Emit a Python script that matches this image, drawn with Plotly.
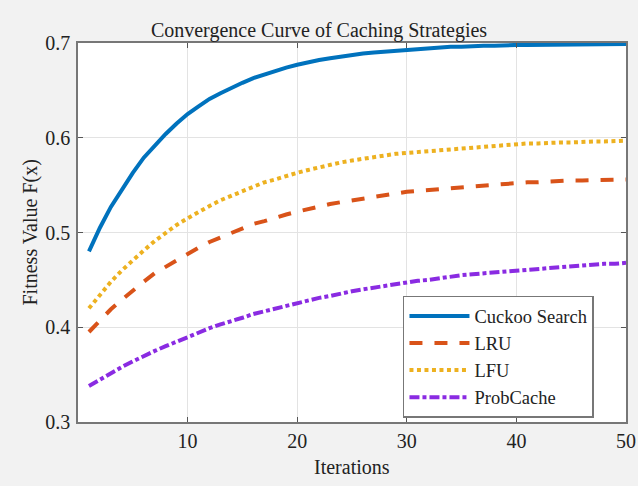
import plotly.graph_objects as go

iterations = list(range(1, 51))

cuckoo_search = [0.480, 0.505, 0.527, 0.546, 0.563, 0.579, 0.592, 0.604, 0.615, 0.625,
                 0.633, 0.641, 0.647, 0.653, 0.658, 0.663, 0.667, 0.671, 0.674, 0.677,
                 0.680, 0.682, 0.684, 0.686, 0.687, 0.689, 0.690, 0.691, 0.692, 0.693,
                 0.694, 0.6945, 0.695, 0.696, 0.696, 0.697, 0.697, 0.697, 0.698, 0.698,
                 0.698, 0.698, 0.6985, 0.699, 0.699, 0.699, 0.699, 0.699, 0.699, 0.699]

lru = [0.395, 0.407, 0.419, 0.429, 0.439, 0.448, 0.457, 0.464, 0.471, 0.478,
       0.484, 0.490, 0.495, 0.500, 0.504, 0.509, 0.512, 0.516, 0.519, 0.522,
       0.525, 0.528, 0.530, 0.532, 0.534, 0.536, 0.538, 0.540, 0.541, 0.543,
       0.544, 0.545, 0.546, 0.547, 0.548, 0.549, 0.550, 0.551, 0.551, 0.552,
       0.553, 0.553, 0.554, 0.554, 0.555, 0.555, 0.555, 0.556, 0.556, 0.556]

lfu = [0.420, 0.434, 0.448, 0.460, 0.471, 0.481, 0.491, 0.500, 0.508, 0.515,
       0.522, 0.528, 0.534, 0.539, 0.544, 0.549, 0.553, 0.556, 0.560, 0.563,
       0.566, 0.569, 0.571, 0.574, 0.576, 0.578, 0.579, 0.581, 0.583, 0.584,
       0.585, 0.586, 0.587, 0.588, 0.589, 0.590, 0.591, 0.592, 0.592, 0.593,
       0.594, 0.594, 0.595, 0.595, 0.595, 0.596, 0.596, 0.596, 0.597, 0.597]

probcache = [0.338, 0.345, 0.352, 0.358, 0.364, 0.370, 0.375, 0.380, 0.385, 0.390,
             0.394, 0.399, 0.403, 0.406, 0.410, 0.414, 0.417, 0.420, 0.423, 0.426,
             0.428, 0.431, 0.433, 0.436, 0.438, 0.440, 0.442, 0.444, 0.445, 0.447,
             0.449, 0.450, 0.452, 0.453, 0.455, 0.456, 0.457, 0.458, 0.459, 0.460,
             0.461, 0.462, 0.463, 0.464, 0.465, 0.465, 0.466, 0.467, 0.467, 0.468]

x_ticks = [10, 20, 30, 40, 50]
y_ticks = [0.3, 0.4, 0.5, 0.6, 0.7]
y_tick_labels = ["0.3", "0.4", "0.5", "0.6", "0.7"]

FONT = "Liberation Serif, Times New Roman, serif"

series = [
    ("Cuckoo Search", cuckoo_search, "#0072BD", "solid", 4),
    ("LRU", lru, "#D95319", "13px,12px", 4),
    ("LFU", lfu, "#EDB120", "4px,3.5px", 4),
    ("ProbCache", probcache, "#8A2BE2", "10px,3px,4px,3px", 4),
]

fig = go.Figure()
for name, ys, color, dash, width in series:
    fig.add_trace(go.Scatter(x=iterations, y=ys, mode="lines", name=name,
                             line=dict(color=color, dash=dash, width=width)))

axis_common = dict(
    showline=True, linecolor="#777777", linewidth=1.5, mirror="allticks",
    ticks="inside", ticklen=5, tickcolor="#555555",
    showgrid=True, gridcolor="#e3e3e3", gridwidth=1, zeroline=False,
    tickfont=dict(family=FONT, size=20, color="#222222"),
)

fig.update_xaxes(range=[0, 50], tickvals=x_ticks, **axis_common)
fig.update_yaxes(range=[0.3, 0.7], tickvals=y_ticks, ticktext=y_tick_labels,
                 ticklabelstandoff=2, **axis_common)

fig.update_layout(
    template="none",
    width=638, height=486,
    margin=dict(l=78, r=12, t=43, b=64),
    paper_bgcolor="#f2f2f2", plot_bgcolor="white",
    font=dict(family=FONT, color="#222222"),
    title=dict(text="Convergence Curve of Caching Strategies", x=0.5, xanchor="center",
               y=1 - 30 / 486, yanchor="middle", font=dict(family=FONT, size=20, color="#222222")),
    showlegend=True,
    legend=dict(x=0.593, y=0.3325, xanchor="left", yanchor="top",
                bgcolor="white", bordercolor="#777777", borderwidth=1.5,
                font=dict(family=FONT, size=18.5, color="#222222"),
                itemwidth=60, tracegroupgap=0, entrywidth=205, entrywidthmode="pixels"),
    annotations=[
        dict(text="Iterations", xref="paper", yref="paper", x=0.5, y=0,
             xanchor="center", yanchor="middle", yshift=-45, showarrow=False,
             font=dict(family=FONT, size=20, color="#222222")),
        dict(text="Fitness Value F(x)", xref="paper", yref="paper", x=0, y=0.5,
             xanchor="center", yanchor="middle", xshift=-48, textangle=-90, showarrow=False,
             font=dict(family=FONT, size=20, color="#222222")),
    ],
)

fig.write_html("out.html", config={"displayModeBar": False},
               post_script="document.body.style.margin='0';")
